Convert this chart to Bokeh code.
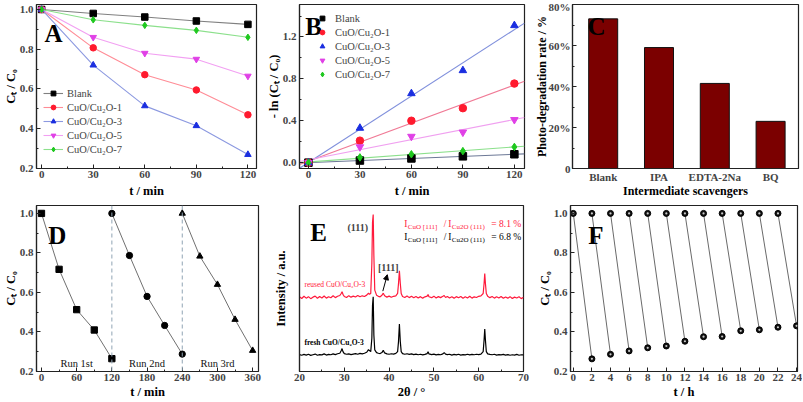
import numpy as np
from bokeh.plotting import figure
from bokeh.models import (FixedTicker, Range1d, Label, Legend, LegendItem, Arrow,
                          NormalHead, Span, NumeralTickFormatter)
from bokeh.layouts import column, row
from bokeh.embed import file_html
from bokeh.resources import INLINE

# ---------------- data ----------------
t_min = [0, 30, 60, 90, 120]
series_names = ["Blank", "CuO/Cu₂O-1", "CuO/Cu₂O-3", "CuO/Cu₂O-5", "CuO/Cu₂O-7"]
ct_blank = [1.0, 0.980, 0.962, 0.942, 0.925]
ct_cu1 = [1.0, 0.807, 0.672, 0.595, 0.470]
ct_cu3 = [1.0, 0.720, 0.515, 0.415, 0.270]
ct_cu5 = [1.0, 0.860, 0.780, 0.750, 0.665]
ct_cu7 = [1.0, 0.948, 0.920, 0.895, 0.860]

ln_blank = [0.0, 0.02, 0.04, 0.06, 0.08]
ln_cu1 = [0.0, 0.21, 0.40, 0.52, 0.755]
ln_cu3 = [0.0, 0.33, 0.66, 0.88, 1.31]
ln_cu5 = [0.0, 0.15, 0.25, 0.29, 0.41]
ln_cu7 = [0.0, 0.05, 0.08, 0.11, 0.15]

scavengers = ["Blank", "IPA", "EDTA-2Na", "BQ"]
degradation_rate = [0.73, 0.59, 0.415, 0.23]

run1_t = [0, 30, 60, 90, 120]
run1_c = [1.0, 0.717, 0.513, 0.410, 0.265]
run2_t = [120, 150, 180, 210, 240]
run2_c = [1.0, 0.787, 0.580, 0.433, 0.288]
run3_t = [240, 270, 300, 330, 360]
run3_c = [1.0, 0.783, 0.640, 0.463, 0.306]
run_labels = ["Run 1st", "Run 2nd", "Run 3rd"]

two_theta = [
    20.0, 20.5, 21.0, 21.5, 22.0, 22.5, 23.0, 23.5, 24.0, 24.5,
    25.0, 25.5, 26.0, 26.5, 27.0, 27.5, 28.0, 28.5, 29.0, 29.3,
    29.5, 29.7, 30.0, 30.5, 31.0, 31.5, 32.0, 32.5, 33.0, 33.5,
    34.0, 34.5, 35.0, 35.4, 35.6, 35.9, 36.15, 36.3, 36.45, 36.6,
    36.8, 37.2, 37.6, 38.0, 38.4, 38.7, 39.0, 39.5, 40.0, 40.5,
    41.0, 41.5, 41.9, 42.1, 42.3, 42.5, 42.7, 43.0, 43.5, 44.0,
    44.5, 45.0, 45.5, 46.0, 46.5, 47.0, 47.5, 48.0, 48.5, 48.7,
    48.9, 49.5, 50.0, 50.5, 51.0, 51.5, 52.0, 52.3, 52.6, 53.0,
    53.5, 54.0, 54.5, 55.0, 55.5, 56.0, 56.5, 57.0, 57.5, 58.0,
    58.5, 59.0, 59.5, 60.0, 60.5, 61.0, 61.2, 61.35, 61.5, 61.7,
    62.0, 62.5, 63.0, 63.5, 64.0, 64.5, 65.0, 65.5, 66.0, 66.5,
    67.0, 67.5, 68.0, 68.5, 69.0, 69.5, 70.0]
xrd_fresh = [
    10.2, 9.8, 10.3, 9.9, 10.4, 9.7, 10.1, 10.5, 9.8, 10.2,
    10.0, 10.6, 9.9, 10.3, 10.1, 10.6, 10.2, 10.7, 11.0, 12.5,
    13.8, 12.0, 10.8, 10.4, 10.6, 10.2, 10.5, 10.8, 10.4, 10.9,
    10.6, 11.0, 11.6, 13.2, 12.6, 12.0, 20.0, 40.0, 45.0, 22.0,
    13.0, 11.4, 11.0, 10.8, 11.4, 12.8, 11.2, 10.6, 10.4, 10.7,
    10.5, 10.9, 12.0, 18.0, 28.6, 18.0, 12.0, 10.8, 10.4, 10.7,
    10.3, 10.6, 10.2, 10.5, 10.1, 10.4, 10.0, 10.3, 10.8, 11.9,
    10.6, 10.2, 10.5, 10.0, 10.3, 10.1, 10.6, 11.4, 10.5, 10.2,
    10.4, 9.9, 10.3, 10.0, 10.4, 9.9, 10.2, 10.0, 10.4, 10.0,
    10.3, 10.1, 10.4, 10.2, 10.5, 12.0, 19.0, 25.6, 19.0, 12.0,
    10.6, 10.3, 10.1, 10.4, 9.9, 10.2, 10.0, 10.3, 9.9, 10.2,
    9.8, 10.1, 9.9, 10.3, 9.8, 10.1, 10.0]
xrd_reused = [
    45.0, 44.0, 45.3, 44.2, 45.1, 43.9, 44.8, 45.4, 44.1, 45.2,
    44.3, 45.5, 44.2, 45.0, 44.4, 45.6, 44.5, 45.3, 45.8, 47.0,
    48.0, 46.5, 45.2, 44.6, 45.7, 44.8, 45.4, 44.9, 45.8, 45.0,
    45.6, 45.2, 46.0, 47.2, 46.5, 47.0, 65.0, 90.0, 94.6, 70.0,
    49.0, 46.0, 45.3, 45.0, 45.9, 47.2, 45.6, 44.8, 45.4, 44.7,
    45.3, 45.6, 47.0, 53.0, 60.7, 53.0, 47.0, 45.2, 44.6, 45.5,
    44.5, 45.3, 44.4, 45.2, 44.3, 45.1, 44.2, 45.0, 45.4, 46.4,
    45.0, 44.5, 45.4, 44.3, 45.1, 44.5, 45.3, 45.8, 44.6, 45.2,
    44.3, 45.0, 44.2, 45.1, 44.4, 45.2, 44.1, 45.0, 44.3, 45.3,
    44.2, 45.0, 44.6, 45.3, 45.6, 47.0, 53.0, 59.0, 53.0, 47.0,
    45.4, 44.5, 45.2, 44.2, 45.0, 44.3, 45.2, 44.1, 44.9, 44.2,
    45.1, 44.0, 44.8, 44.3, 45.0, 43.9, 44.7]

cycle_start_h = [0, 2, 4, 6, 8, 10, 12, 14, 16, 18, 20, 22]
cycle_start_c = [1.0, 1.0, 1.0, 1.0, 1.0, 1.0, 1.0, 1.0, 1.0, 1.0, 1.0, 1.0]
cycle_end_h = [2, 4, 6, 8, 10, 12, 14, 16, 18, 20, 22, 24]
cycle_end_c = [0.264, 0.287, 0.304, 0.320, 0.329, 0.353, 0.376, 0.377, 0.406, 0.411, 0.424, 0.431]

# ---------------- styles ----------------
FONT = "Liberation Serif"
FRAME = "#222222"
marker_colors = ["#000000", "#FF1A2E", "#1A2EE0", "#E040E6", "#1EC81E"]
line_colors = ["#808080", "#FF8C96", "#8C99E0", "#F2A0F2", "#8CE08C"]
marker_types = ["square", "circle", "triangle", "inverted_triangle", "diamond"]
fit_colors = ["#6C7896", "#F07A96", "#8090DC", "#F0A0F0", "#8CE08C"]


def make_fig(width, height, x_range, y_range, borders, xlabel, ylabel):
    l, r, t, b = borders
    p = figure(width=width, height=height, x_range=x_range, y_range=y_range,
               output_backend="svg", toolbar_location=None,
               min_border_left=l, min_border_right=r,
               min_border_top=t, min_border_bottom=b)
    p.xgrid.visible = False
    p.ygrid.visible = False
    p.outline_line_color = FRAME
    p.outline_line_width = 1.2
    p.outline_line_alpha = 1.0
    for ax in list(p.xaxis) + list(p.yaxis):
        ax.axis_line_color = FRAME
        ax.axis_line_width = 1.2
        ax.major_tick_in = 4
        ax.major_tick_out = 0
        ax.minor_tick_in = 2
        ax.minor_tick_out = 0
        ax.major_tick_line_color = FRAME
        ax.minor_tick_line_color = FRAME
        ax.major_label_text_font = FONT
        ax.major_label_text_font_style = "bold"
        ax.major_label_text_font_size = "11px"
        ax.axis_label_text_font = FONT
        ax.axis_label_text_font_style = "bold"
        ax.axis_label_text_font_size = "12.5px"
        ax.axis_label_text_color = "#000000"
    p.xaxis.major_label_standoff = 2
    p.xaxis.axis_label_standoff = 1
    p.yaxis.major_label_standoff = 3
    p.yaxis.axis_label_standoff = -1
    p.xaxis.axis_label = xlabel
    p.yaxis.axis_label = ylabel
    return p


def panel_letter(p, letter, x, y):
    p.add_layout(Label(x=x, y=y, text=letter, text_font=FONT, text_font_style="bold",
                       text_font_size="25px", text_baseline="alphabetic", text_color="#000000"))


# ---------------- A ----------------
pa = make_fig(263, 200, Range1d(-3, 125), Range1d(0.2, 1.025), (35, 7, 3, 30),
              "t / min", "Cₜ / C₀")
pa.xaxis.axis_label_standoff = 3
pa.xaxis.ticker = FixedTicker(ticks=[0, 30, 60, 90, 120], minor_ticks=[15, 45, 75, 105])
pa.yaxis.ticker = FixedTicker(ticks=[0.2, 0.4, 0.6, 0.8, 1.0], minor_ticks=[0.3, 0.5, 0.7, 0.9])
pa.yaxis.formatter = NumeralTickFormatter(format="0.0")
items = []
for name, vals, mc, lc, mk in zip(series_names, [ct_blank, ct_cu1, ct_cu3, ct_cu5, ct_cu7],
                                  marker_colors, line_colors, marker_types):
    lr = pa.line(t_min, vals, line_color=lc, line_width=1.1)
    sr = pa.scatter(t_min, vals, marker=mk, size=6.5, fill_color=mc, line_color=mc)
    items.append(LegendItem(label=name, renderers=[lr, sr]))
leg_a = Legend(items=items, location=(7, 13), background_fill_alpha=0, border_line_alpha=0,
               label_text_font=FONT, label_text_font_size="10.5px", glyph_width=20,
               glyph_height=12, label_height=12, spacing=2, padding=0, margin=0, label_standoff=4)
pa.add_layout(leg_a)
panel_letter(pa, "A", 1.7, 0.877)

# ---------------- B ----------------
pb = make_fig(267, 200, Range1d(-5.2, 125.9), Range1d(-0.056, 1.51), (36, 6, 3, 30),
              "t / min", "- ln (Cₜ / C₀)")
pb.xaxis.axis_label_standoff = 3
pb.xaxis.ticker = FixedTicker(ticks=[0, 30, 60, 90, 120], minor_ticks=[15, 45, 75, 105])
pb.yaxis.ticker = FixedTicker(ticks=[0.0, 0.4, 0.8, 1.2], minor_ticks=[0.2, 0.6, 1.0, 1.4])
pb.yaxis.formatter = NumeralTickFormatter(format="0.0")
x_fit = np.array([pb.x_range.start, pb.x_range.end])
items_b = []
for name, vals, mc, fc, mk in zip(series_names, [ln_blank, ln_cu1, ln_cu3, ln_cu5, ln_cu7],
                                  marker_colors, fit_colors, marker_types):
    k, b0 = np.polyfit(t_min, vals, 1)
    pb.line(x_fit, k * x_fit + b0, line_color=fc, line_width=1.1)
for name, vals, mc, mk in zip(series_names, [ln_blank, ln_cu1, ln_cu3, ln_cu5, ln_cu7],
                              marker_colors, marker_types):
    sr = pb.scatter(t_min, vals, marker=mk, size=7.5, fill_color=mc, line_color=mc)
    items_b.append(LegendItem(label=name, renderers=[sr]))
leg_b = Legend(items=items_b, location=(17, 88), background_fill_alpha=0, border_line_alpha=0,
               label_text_font=FONT, label_text_font_size="10.5px", glyph_width=12,
               glyph_height=12, label_height=12, spacing=2, padding=0, margin=0, label_standoff=7)
pb.add_layout(leg_b)
panel_letter(pb, "B", -1.9, 1.30)

# ---------------- C ----------------
pc = make_fig(272, 200, Range1d(-0.05, 4.0), Range1d(0, 0.8), (42, 4, 4, 29),
              "Intermediate scavengers", "Photo-degradation rate / %")
bar_x = [i + 0.5 for i in range(len(scavengers))]
pc.vbar(x=bar_x, top=degradation_rate, width=0.52, fill_color="#7B0000", line_color="#111111",
        line_width=1)
pc.xaxis.ticker = FixedTicker(ticks=bar_x)
pc.xaxis.major_label_overrides = {x: s for x, s in zip(bar_x, scavengers)}
pc.xaxis.major_tick_in = 0
pc.xaxis.axis_label_standoff = -2
pc.yaxis.ticker = FixedTicker(ticks=[0, 0.2, 0.4, 0.6, 0.8], minor_ticks=[0.1, 0.3, 0.5, 0.7])
pc.yaxis.major_label_overrides = {0: "0", 0.2: "20%", 0.4: "40%", 0.6: "60%", 0.8: "80%"}
pc.yaxis.major_label_standoff = 2
pc.yaxis.axis_label_standoff = -3
pc.xaxis.axis_label_text_font_size = "12px"
pc.yaxis.axis_label_text_font_size = "12px"
panel_letter(pc, "C", 0.22, 0.695)

# ---------------- D ----------------
pd_ = make_fig(263, 201, Range1d(-8.5, 370), Range1d(0.2, 1.04), (35, 5, 5, 28),
               "t / min", "Cₜ / C₀")
pd_.xaxis.ticker = FixedTicker(ticks=[0, 60, 120, 180, 240, 300, 360],
                               minor_ticks=[30, 90, 150, 210, 270, 330])
pd_.yaxis.ticker = FixedTicker(ticks=[0.2, 0.4, 0.6, 0.8, 1.0], minor_ticks=[0.3, 0.5, 0.7, 0.9])
pd_.yaxis.formatter = NumeralTickFormatter(format="0.0")
for tt in [run2_t[0], run3_t[0]]:
    pd_.add_layout(Span(location=tt, dimension="height", line_color="#90A4B4",
                        line_dash="4 3", line_width=1))
for tt, cc, mk, lab in zip([run1_t, run2_t, run3_t], [run1_c, run2_c, run3_c],
                           ["square", "circle", "triangle"], run_labels):
    pd_.line(tt, cc, line_color="#707070", line_width=1)
    pd_.scatter(tt, cc, marker=mk, size=6.3, fill_color="#000000", line_color="#000000")
    pd_.add_layout(Label(x=float(np.mean(tt)), y=0.24, text=lab, text_font=FONT,
                         text_font_size="10.5px", text_align="center",
                         text_baseline="alphabetic", text_color="#111111"))
panel_letter(pd_, "D", 11.5, 0.89)

# ---------------- E ----------------
pe = make_fig(267, 201, Range1d(20, 70), Range1d(0, 100), (36, 7, 5, 28),
              "2θ / °", "Intensity / a.u.")
pe.xaxis.ticker = FixedTicker(ticks=[20, 30, 40, 50, 60, 70], minor_ticks=[25, 35, 45, 55, 65])
pe.yaxis.ticker = FixedTicker(ticks=[])
pe.yaxis.axis_label_standoff = 12
assert len(two_theta) == len(xrd_fresh) == len(xrd_reused)
pe.line(two_theta, xrd_fresh, line_color="#000000", line_width=1.2)
pe.line(two_theta, xrd_reused, line_color="#FF1A3C", line_width=1.2)
pe.add_layout(Label(x=21.1, y=52.4, text="reused CuO/Cu₂O-3", text_font=FONT,
                    text_font_size="7.5px", text_baseline="middle", text_color="#FF1A3C"))
pe.add_layout(Label(x=21.1, y=17.7, text="fresh CuO/Cu₂O-3", text_font=FONT,
                    text_font_style="bold", text_font_size="7.5px", text_baseline="middle",
                    text_color="#000000"))
pe.add_layout(Label(x=33.0, y=86.6, text="(111)", text_font=FONT, text_font_style="bold",
                    text_font_size="10px", text_baseline="middle", text_align="center"))
pe.add_layout(Label(x=39.8, y=62.5, text="[111]", text_font=FONT, text_font_style="bold",
                    text_font_size="10px", text_baseline="middle", text_align="center"))
pe.add_layout(Arrow(end=NormalHead(size=5, fill_color="#000000", line_color="#000000"),
                    x_start=38.6, y_start=48.4, x_end=39.6, y_end=58.3,
                    line_color="#000000", line_width=1))


def ratio_text(p, x, y, color, pct):
    pieces = [("I", 0, 0, "9.5px"), ("CuO [111]", 3.5, -3, "7px"), ("/", 39.5, 0, "9.5px"),
              ("I", 44, 0, "9.5px"), ("Cu2O (111)", 47.5, -3, "7px"),
              ("= " + pct, 87, 0, "9.5px")]
    for txt, dx, dy, fs in pieces:
        p.add_layout(Label(x=x, y=y, x_offset=dx, y_offset=dy, text=txt, text_font=FONT,
                           text_font_size=fs, text_baseline="middle", text_color=color))


ratio_text(pe, 43.4, 89.0, "#FF1A3C", "8.1 %")
ratio_text(pe, 43.4, 81.1, "#000000", "6.8 %")
panel_letter(pe, "E", 22.4, 84)

# ---------------- F ----------------
pf = make_fig(272, 201, Range1d(-0.3, 24.1), Range1d(0.2, 1.04), (40, 5, 5, 28),
              "t / h", "Cₜ / C₀")
pf.xaxis.ticker = FixedTicker(ticks=list(range(0, 25, 2)))
pf.yaxis.ticker = FixedTicker(ticks=[0.2, 0.4, 0.6, 0.8, 1.0], minor_ticks=[0.3, 0.5, 0.7, 0.9])
pf.yaxis.formatter = NumeralTickFormatter(format="0.0")
pf.segment(x0=cycle_start_h, y0=cycle_start_c, x1=cycle_end_h, y1=cycle_end_c,
           line_color="#6A6A6A", line_width=1)
for xs, ys in [(cycle_start_h, cycle_start_c), (cycle_end_h, cycle_end_c)]:
    pf.scatter(xs, ys, marker="circle", size=6, fill_color="#111111", line_color="#000000")
    pf.scatter(xs, ys, marker="circle", size=2.2, fill_color="#C8C8C8", line_color=None)
panel_letter(pf, "F", 1.6, 0.89)

layout = column(row(pa, pb, pc), row(pd_, pe, pf))
open("out.html", "w").write(file_html(layout, INLINE))
